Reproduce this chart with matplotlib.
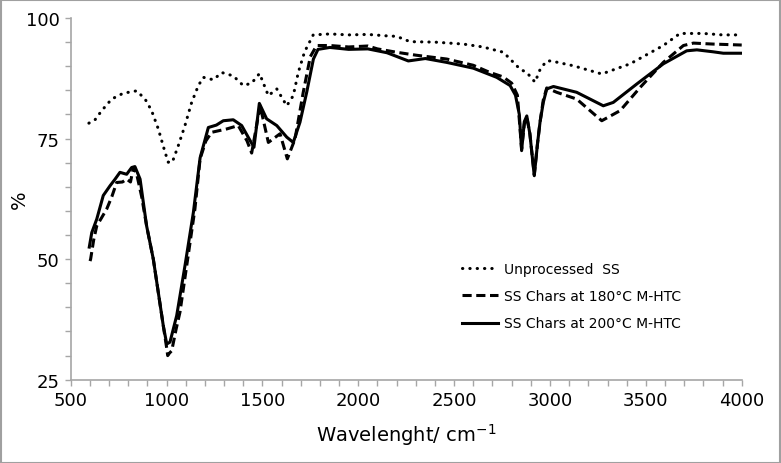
import numpy as np
import matplotlib.pyplot as plt
from matplotlib.patches import Rectangle

# Unprocessed SS (dotted)
x_raw = [595, 627, 662, 714, 774, 844, 888, 922, 957, 992, 1009, 1030, 1061, 1096,
         1131, 1166, 1192, 1244, 1288, 1348, 1400, 1444, 1485, 1531, 1575, 1627,
         1661, 1687, 1720, 1765, 1852, 1950, 2050, 2148, 2200, 2270, 2400, 2548,
         2650, 2757, 2844, 2879, 2922, 2950, 2983, 3006, 3122, 3270, 3418, 3591,
         3678, 3800, 3900, 4000]
y_raw = [78.2, 78.9, 80.8, 83.2, 84.4, 84.9, 83.2, 80.8, 77.0, 72.2, 70.1, 70.1, 73.5,
         77.7, 82.5, 86.0, 87.7, 87.2, 88.7, 88.0, 86.0, 86.5, 88.5, 83.9, 85.3,
         81.8, 83.9, 88.7, 93.0, 96.5, 96.7, 96.5, 96.6, 96.3, 96.2, 95.1, 95.0,
         94.6, 94.0, 92.9, 89.4, 88.7, 86.7, 89.5, 91.1, 91.1, 90.1, 88.4, 90.5,
         94.3, 96.8, 96.8, 96.5, 96.5]

# SS chars at 180 C (dashed)
x_180 = [601, 604, 620, 636, 660, 688, 715, 740, 770, 792, 812, 827, 845, 870,
         896, 931, 957, 983, 1001, 1006, 1015, 1027, 1050, 1070, 1105, 1148,
         1175, 1205, 1235, 1314, 1374, 1420, 1444, 1488, 1531, 1592, 1630, 1670,
         1713, 1750, 1783, 1852, 1950, 2050, 2100, 2200, 2300, 2461, 2600, 2687,
         2755, 2800, 2830, 2852, 2866, 2879, 2895, 2918, 2935, 2948, 2965, 2983,
         3035, 3139, 3270, 3366, 3470, 3591, 3696, 3748, 3850, 4000]
y_180 = [49.6, 50.0, 54.0, 56.9, 58.5, 60.4, 63.0, 65.9, 66.0, 66.6, 66.0, 69.0,
         67.5, 63.0, 56.9, 50.0, 43.1, 36.2, 31.5, 30.0, 30.5, 31.0, 35.5, 39.0,
         48.6, 60.4, 70.8, 74.5, 76.3, 77.0, 77.7, 74.5, 72.0, 81.8, 74.2, 76.0,
         70.8, 74.9, 84.6, 92.0, 94.3, 94.3, 94.0, 94.2, 93.6, 92.9, 92.3, 91.5,
         90.2, 88.7, 87.8, 86.5, 84.0, 72.8, 78.0, 79.5, 76.0, 67.5, 74.0, 78.4,
         83.0, 85.5, 84.6, 83.2, 78.7, 80.8, 85.6, 90.8, 94.3, 94.8, 94.6, 94.4]

# SS chars at 200 C (solid)
x_200 = [597, 610, 636, 670, 705, 730, 757, 792, 818, 835, 862, 896, 931, 957,
         983, 1001, 1018, 1053, 1096, 1140, 1175, 1218, 1260, 1296, 1348, 1392,
         1430, 1456, 1484, 1522, 1575, 1627, 1661, 1696, 1731, 1766, 1790, 1852,
         1950, 2050, 2150, 2261, 2350, 2461, 2600, 2722, 2792, 2820, 2840, 2852,
         2866, 2879, 2895, 2918, 2935, 2948, 2965, 2983, 3018, 3139, 3278, 3330,
         3452, 3591, 3713, 3766, 3850, 3904, 4000]
y_200 = [52.5, 55.5, 58.3, 63.2, 65.2, 66.5, 68.0, 67.6, 69.0, 69.2, 66.6, 56.9,
         50.0, 43.1, 36.2, 32.4, 32.8, 38.3, 48.6, 59.7, 71.0, 77.3, 77.8, 78.7,
         78.9, 77.7, 75.0, 73.2, 82.3, 79.1, 77.7, 75.3, 74.2, 78.4, 84.6, 91.5,
         93.5, 93.9, 93.5, 93.6, 92.8, 91.1, 91.6, 90.8, 89.6, 87.7, 86.0, 84.0,
         80.0, 72.5, 78.5, 79.7, 76.0, 67.3, 74.0, 78.4, 82.5, 85.3, 85.8, 84.6,
         81.8, 82.5, 86.3, 90.5, 93.2, 93.4, 93.0, 92.7, 92.7]

labels = ["Unprocessed  SS", "SS Chars at 180\u00b0C M-HTC", "SS Chars at 200\u00b0C M-HTC"]

fig = plt.figure(figsize=(7.81, 4.64), dpi=100)
ax = fig.add_axes([0.0905, 0.1795, 0.8592, 0.7795])

ax.plot(x_raw, y_raw, color='black', lw=2.2, linestyle=(0, (0.1, 2.3)),
        dash_capstyle='round', label=labels[0])
ax.plot(x_180, y_180, color='black', lw=2.2, linestyle=(0, (3, 1.5)), label=labels[1])
ax.plot(x_200, y_200, color='black', lw=2.2, linestyle='-', label=labels[2])

ax.set_xlim(500, 4000)
ax.set_ylim(25, 100)
ax.set_xticks(np.arange(500, 4001, 500))
ax.set_yticks(np.arange(25, 101, 25))
ax.set_xticks(np.arange(500, 4001, 100), minor=True)
ax.set_yticks(np.arange(25, 101, 5), minor=True)

for s in ['top', 'right']:
    ax.spines[s].set_visible(False)
for s in ['left', 'bottom']:
    ax.spines[s].set_color('#a6a6a6')
    ax.spines[s].set_linewidth(1.2)
ax.tick_params(which='both', direction='out', length=4, color='#a6a6a6', width=1)
ax.tick_params(which='major', labelsize=13, pad=4)

ax.set_xlabel('Wavelenght/ cm$^{-1}$', fontsize=14, labelpad=9)
ax.set_ylabel('%', fontsize=14)
ax.yaxis.set_label_coords(-0.063, 0.5)

ax.legend(loc='upper left', bbox_to_anchor=(0.565, 0.36), frameon=False,
          fontsize=10, handlelength=2.6, handletextpad=0.4, labelspacing=0.95)

fig.patches.append(Rectangle((0.001, 0.001), 0.998, 0.997, transform=fig.transFigure,
                             fill=False, edgecolor='#a0a0a0', lw=1.5))

fig.savefig('out.png', dpi=100)
